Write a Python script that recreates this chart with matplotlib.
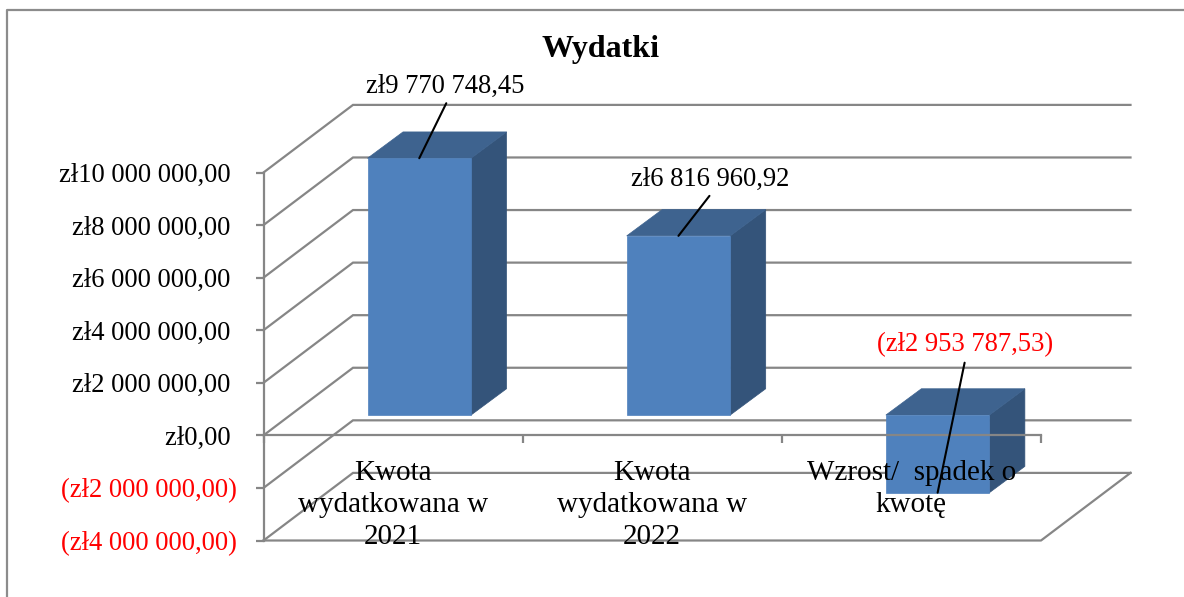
import matplotlib
matplotlib.use("Agg")
import matplotlib.pyplot as plt
from matplotlib.lines import Line2D
from matplotlib.ticker import FuncFormatter

categories = ["Kwota\nwydatkowana w\n2021", "Kwota\nwydatkowana w\n2022", "Wzrost/  spadek o\nkwotę"]
values = [9770748.45, 6816960.92, -2953787.53]
y_ticks = [-4000000, -2000000, 0, 2000000, 4000000, 6000000, 8000000, 10000000]

W, H = 1184, 597
GRID = "#868686"
FACE = "#4f81bd"
SIDE = "#34547a"
TOP = "#3e638f"
FONT = "Liberation Serif"
SIZE = 19.2

plt.rcParams['font.family'] = FONT

fig = plt.figure(figsize=(W / 100, H / 100), dpi=100)
ax = fig.add_axes([263.5 / W, 1 - 540.5 / H, 777.5 / W, 368 / H])
ax.set_xlim(0, 3)
ax.set_ylim(-4000000, 10000000)
ax.set_axisbelow(False)

# pixel size of one unit, used to turn the 3d depth into data units
px_x = 777.5 / 3
px_y = 368 / 14000000


def depth(x, v, dx_px, dy_px):
    return x + dx_px / px_x, v + dy_px / px_y


def money(v, pos=None):
    s = f"{abs(v):,.2f}".replace(",", " ").replace(".", ",")
    return f"(zł{s})" if v < 0 else f"zł{s}"


def tick_money(v, pos=None):
    # positive labels leave room for the closing bracket of the negative ones
    return money(v) if v < 0 else money(v) + " "


# walls and floor
back = (89.5, 67.6)
for v in y_ticks:
    x0, y0 = depth(0, v, *back)
    x1, y1 = depth(3, v, *back)
    ax.plot([0, x0, x1], [v, y0, y1], color=GRID, lw=1.6, clip_on=False, zorder=1, solid_joinstyle='miter')
x1, y1 = depth(3, -4000000, *back)
ax.plot([0, 3, x1], [-4000000, -4000000, y1], color=GRID, lw=1.6, clip_on=False, zorder=1)

# bars
front = (26.2, 20.3)
bar_depth = (35.5, 26.3)
bar_w = 103.5 / px_x
for i, v in enumerate(values):
    left, base = depth(i + 0.5 - bar_w / 2, 0, *front)
    right = left + bar_w
    rx, _ = depth(right, 0, *bar_depth)
    lx = rx - bar_w
    _, top_back = depth(0, max(v, 0) + base, *bar_depth)
    _, bot_back = depth(0, min(v, 0) + base, *bar_depth)
    hi, lo = max(v, 0) + base, min(v, 0) + base
    ax.fill([right, rx, rx, right], [lo, bot_back, top_back, hi], color=SIDE, lw=0.5, clip_on=False, zorder=2)
    ax.fill([left, right, rx, lx], [hi, hi, top_back, top_back], color=TOP, lw=0.5, clip_on=False, zorder=2)
    ax.fill([left, right, right, left], [lo, lo, hi, hi], color=FACE, lw=0.5, clip_on=False, zorder=2)

# axes
for name in ["top", "right"]:
    ax.spines[name].set_visible(False)
ax.spines["left"].set_color(GRID)
ax.spines["left"].set_linewidth(1.6)
ax.spines["bottom"].set_color(GRID)
ax.spines["bottom"].set_linewidth(1.6)
ax.spines["bottom"].set_position(("data", 0))
ax.spines["bottom"].set_zorder(3)
ax.patch.set_visible(False)

ax.set_yticks(y_ticks)
ax.yaxis.set_major_formatter(FuncFormatter(tick_money))
ax.tick_params(axis="y", length=5.5, width=1.6, color=GRID, pad=13.5, labelsize=SIZE)
for t, v in zip(ax.get_yticklabels(), y_ticks):
    t.set_color("red" if v < 0 else "black")

ax.set_xticks([0, 1, 2, 3])
ax.set_xticklabels([])
ax.set_xticks([0.5, 1.5, 2.5], labels=categories, minor=True)
ax.tick_params(axis="x", which="major", length=5.5, width=1.6, color=GRID)
ax.tick_params(axis="x", which="minor", length=0, pad=18, labelsize=21)
for t in ax.get_xticklabels(minor=True):
    t.set_linespacing(1.29)

# data labels with leader lines
label_offset = [(26, 72), (32, 56), (27, 148)]
line_offset = [(27, 55), (31, 40), (27, 130)]
for i, v in enumerate(values):
    x, base = depth(i + 0.5, 0, *front)
    y = v + base
    ax.annotate("", xy=(x, y), xytext=line_offset[i], textcoords="offset pixels", annotation_clip=False,
                arrowprops=dict(arrowstyle="-", color="black", lw=1.5, shrinkA=0, shrinkB=0), zorder=5)
    ax.annotate(money(v), xy=(x, y), xytext=label_offset[i], textcoords="offset pixels",
                ha="center", va="center", fontsize=SIZE, color="red" if v < 0 else "black", zorder=6,
                annotation_clip=False)

fig.text(601 / W, 1 - 50 / H, "Wydatki", ha="center", va="center", fontsize=23, fontweight="bold")

# chart frame
fig.add_artist(Line2D([6.5 / W, 6.5 / W, 1], [0, 1 - 10 / H, 1 - 10 / H], color="#8c8c8c", lw=1.6))

fig.savefig("out.png", dpi=100)
